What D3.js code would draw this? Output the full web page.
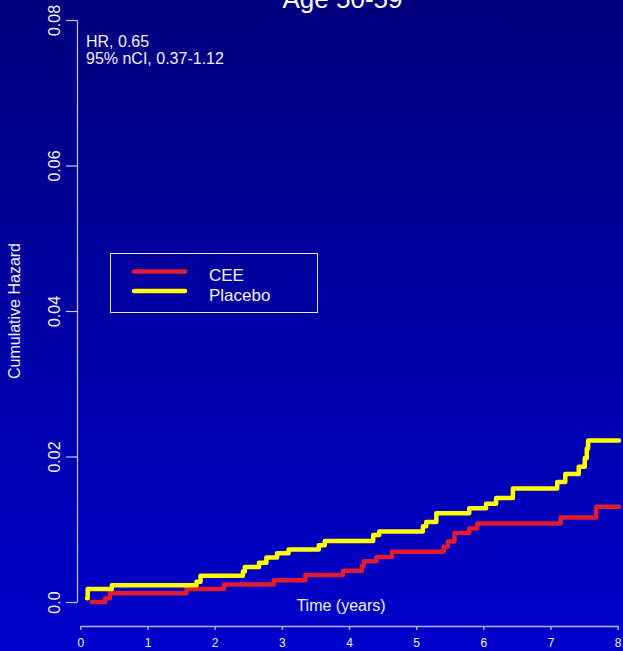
<!DOCTYPE html>
<html>
<head>
<meta charset="utf-8">
<script src="https://cdn.jsdelivr.net/npm/d3@7"></script>
<style>
  html, body { margin: 0; padding: 0; background: #000080; }
  svg { display: block; font-family: "Liberation Sans", Arial, sans-serif; }
</style>
</head>
<body>
<svg id="chart" width="623" height="651"></svg>
<script>
// ---- data ----
const titleText = "Age 50-59";
const xTicks = [0, 1, 2, 3, 4, 5, 6, 7, 8];
const yTicks = [0, 0.02, 0.04, 0.06, 0.08];
const yTickLabels = ["0.0", "0.02", "0.04", "0.06", "0.08"];
const seriesNames = ["CEE", "Placebo"];
const annotation = ["HR, 0.65", "95% nCI, 0.37-1.12"];

// CEE step points (time, cumulative hazard)
const ceeTime  = [0.17, 0.37, 0.44, 1.58, 2.14, 2.88, 3.35, 3.91, 4.19, 4.22, 4.41, 4.64, 5.41, 5.47, 5.57, 5.79, 5.91, 7.15, 7.68, 8.02];
const ceeValue = [0.0, 0.0005, 0.0012, 0.0018, 0.0024, 0.0030, 0.0037, 0.0043, 0.0050, 0.0056, 0.0062, 0.0069, 0.0076, 0.0083, 0.0095, 0.0101, 0.0108, 0.0116, 0.0131, 0.0131];

// Placebo step points
const plaTime  = [0.10, 0.11, 0.47, 1.73, 1.79, 2.42, 2.45, 2.66, 2.77, 2.93, 3.10, 3.55, 3.64, 4.36, 4.45, 5.10, 5.15, 5.30, 5.79, 6.04, 6.19, 6.44, 7.10, 7.22, 7.42, 7.51, 7.54, 7.56, 8.02];
const plaValue = [0.0005, 0.0018, 0.0023, 0.0028, 0.0036, 0.0042, 0.0048, 0.0054, 0.0061, 0.0067, 0.0072, 0.0078, 0.0084, 0.0092, 0.0097, 0.0104, 0.0110, 0.0122, 0.0129, 0.0135, 0.0143, 0.0156, 0.0165, 0.0176, 0.0186, 0.0198, 0.0211, 0.0222, 0.0222];

const colors = ["#e41b2e", "#ffff00"];

// ---- drawing ----
const svg = d3.select("#chart");
const W = 623, H = 651;

const defs = svg.append("defs");
const grad = defs.append("linearGradient").attr("id", "bg").attr("x1", 0).attr("y1", 0).attr("x2", 0).attr("y2", 1);
grad.append("stop").attr("offset", "0%").attr("stop-color", "#00007e");
grad.append("stop").attr("offset", "100%").attr("stop-color", "#0000cc");
svg.append("rect").attr("width", W).attr("height", H).attr("fill", "url(#bg)");

const x = d3.scaleLinear().domain([0, 8]).range([80.3, 617.7]);
const y = d3.scaleLinear().domain([0, 0.08]).range([602, 20]);

const axisCol = "#c8c8f4";
const textCol = "#f0f0ff";

// Y axis
const yAxis = svg.append("g").attr("transform", "translate(77,0)")
  .call(d3.axisLeft(y).tickValues(yTicks).tickSize(11).tickSizeOuter(0).tickFormat(""));
yAxis.selectAll("path, line").attr("stroke", axisCol).attr("stroke-width", 1.2);
yAxis.selectAll(".tick").append("text")
  .attr("transform", "translate(-17,0) rotate(-90)")
  .attr("text-anchor", "middle")
  .attr("fill", textCol)
  .attr("font-size", 16)
  .attr("x", 0).attr("y", 0)
  .text((d, i) => yTickLabels[i]);

// X axis
const xAxis = svg.append("g").attr("transform", "translate(0,626)")
  .call(d3.axisBottom(x).tickValues(xTicks).tickSize(4).tickSizeOuter(0).tickFormat(d3.format("d")));
xAxis.selectAll("path, line").attr("stroke", "#b4b4f0").attr("stroke-width", 1.4);
xAxis.selectAll("text").attr("fill", textCol).attr("font-size", 12)
  .attr("font-family", "Liberation Sans, Arial, sans-serif").attr("dy", null).attr("y", 21);

// Title
svg.append("text").attr("x", 342.5).attr("y", 8).attr("text-anchor", "middle")
  .attr("fill", "#ffffff").attr("font-size", 26).text(titleText);

// Axis titles
svg.append("text").attr("transform", "translate(20,311) rotate(-90)").attr("text-anchor", "middle")
  .attr("fill", textCol).attr("font-size", 16).text("Cumulative Hazard");
svg.append("text").attr("x", 341).attr("y", 611).attr("text-anchor", "middle")
  .attr("fill", textCol).attr("font-size", 16).text("Time (years)");

// Annotation
annotation.forEach((t, i) => {
  svg.append("text").attr("x", 86).attr("y", 47 + i * 16.6)
    .attr("fill", textCol).attr("font-size", 16).text(t);
});

// Step lines
const line = d3.line().x(d => x(d[0])).y(d => y(d[1])).curve(d3.curveStepAfter);
const series = [
  ceeTime.map((t, i) => [t, ceeValue[i]]),
  plaTime.map((t, i) => [t, plaValue[i]])
];
series.forEach((s, i) => {
  svg.append("path").datum(s).attr("d", line)
    .attr("fill", "none").attr("stroke", colors[i]).attr("stroke-width", 4.5)
    .attr("stroke-linejoin", "round").attr("stroke-linecap", "round");
});

// Legend
const lg = svg.append("g");
lg.append("rect").attr("x", 110.5).attr("y", 253.5).attr("width", 207).attr("height", 59)
  .attr("fill", "none").attr("stroke", "#e8e8ff").attr("stroke-width", 1);
seriesNames.forEach((n, i) => {
  const ly = 271.5 + i * 19.5;
  lg.append("line").attr("x1", 134).attr("x2", 185).attr("y1", ly).attr("y2", ly)
    .attr("stroke", colors[i]).attr("stroke-width", 4.5).attr("stroke-linecap", "round");
  lg.append("text").attr("x", 209).attr("y", ly + 9.5).attr("fill", textCol)
    .attr("font-size", 17).text(n);
});
</script>
</body>
</html>
